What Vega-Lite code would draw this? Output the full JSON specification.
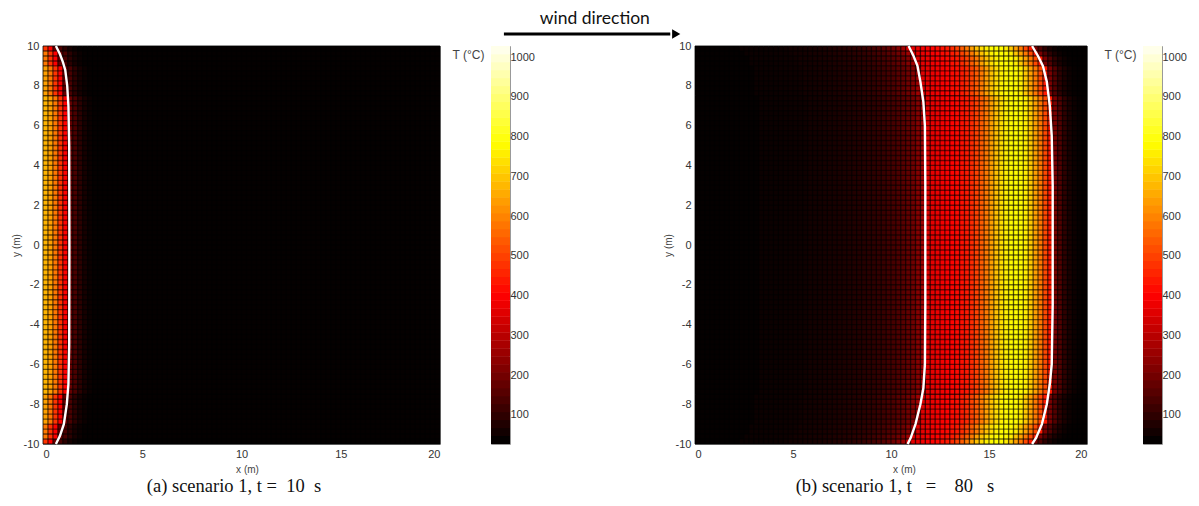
{"$schema":"https://vega.github.io/schema/vega-lite/v6.json","padding":{"left":10,"top":9,"right":0,"bottom":0},"background":"white","bounds":"flush","spacing":0,"resolve":{"scale":{"color":"independent"}},
"config":{"view":{"stroke":"#999","strokeWidth":1},"axis":{"grid":false,"domain":false,"ticks":false,"labelFont":"Liberation Sans","labelFontSize":11,"labelColor":"#333","titleFont":"Liberation Sans","titleFontSize":10,"titleFontWeight":"normal","titleColor":"#444","labelPadding":4,"labelExpr":"''+datum.value"}},
"datasets":{
"bands":[{"k":"a","y0":0,"y1":7.5,"n0":0,"n1":-7.5},{"k":"b","y0":7.5,"y1":9,"n0":-7.5,"n1":-9},{"k":"c","y0":9,"y1":9.5,"n0":-9,"n1":-9.5},{"k":"d","y0":9.5,"y1":9.75,"n0":-9.5,"n1":-9.75},{"k":"e","y0":9.75,"y1":10,"n0":-9.75,"n1":-10}],
"gx":[0,0.25,0.5,0.75,1,1.25,1.5,1.75,2,2.25,2.5,2.75,3,3.25,3.5,3.75,4,4.25,4.5,4.75,5,5.25,5.5,5.75,6,6.25,6.5,6.75,7,7.25,7.5,7.75,8,8.25,8.5,8.75,9,9.25,9.5,9.75,10,10.25,10.5,10.75,11,11.25,11.5,11.75,12,12.25,12.5,12.75,13,13.25,13.5,13.75,14,14.25,14.5,14.75,15,15.25,15.5,15.75,16,16.25,16.5,16.75,17,17.25,17.5,17.75,18,18.25,18.5,18.75,19,19.25,19.5,19.75,20],
"gy":[-10,-9.75,-9.5,-9.25,-9,-8.75,-8.5,-8.25,-8,-7.75,-7.5,-7.25,-7,-6.75,-6.5,-6.25,-6,-5.75,-5.5,-5.25,-5,-4.75,-4.5,-4.25,-4,-3.75,-3.5,-3.25,-3,-2.75,-2.5,-2.25,-2,-1.75,-1.5,-1.25,-1,-0.75,-0.5,-0.25,0,0.25,0.5,0.75,1,1.25,1.5,1.75,2,2.25,2.5,2.75,3,3.25,3.5,3.75,4,4.25,4.5,4.75,5,5.25,5.5,5.75,6,6.25,6.5,6.75,7,7.25,7.5,7.75,8,8.25,8.5,8.75,9,9.25,9.5,9.75,10],
"bar":[{"t":27,"u":48},{"t":47,"u":68},{"t":67,"u":88},{"t":87,"u":108},{"t":107,"u":128},{"t":127,"u":148},{"t":147,"u":168},{"t":167,"u":188},{"t":187,"u":208},{"t":207,"u":228},{"t":227,"u":248},{"t":247,"u":268},{"t":267,"u":288},{"t":287,"u":308},{"t":307,"u":328},{"t":327,"u":348},{"t":347,"u":368},{"t":367,"u":388},{"t":387,"u":408},{"t":407,"u":428},{"t":427,"u":448},{"t":447,"u":468},{"t":467,"u":488},{"t":487,"u":508},{"t":507,"u":528},{"t":527,"u":548},{"t":547,"u":568},{"t":567,"u":588},{"t":587,"u":608},{"t":607,"u":628},{"t":627,"u":648},{"t":647,"u":668},{"t":667,"u":688},{"t":687,"u":708},{"t":707,"u":728},{"t":727,"u":748},{"t":747,"u":768},{"t":767,"u":788},{"t":787,"u":808},{"t":807,"u":828},{"t":827,"u":848},{"t":847,"u":868},{"t":867,"u":888},{"t":887,"u":908},{"t":907,"u":928},{"t":927,"u":948},{"t":947,"u":968},{"t":967,"u":988},{"t":987,"u":1008},{"t":1007,"u":1028}],
"A":[{"x":0,"w":0.25,"a":660,"b":630,"c":570,"d":570,"e":470},{"x":0.25,"w":0.5,"a":630,"b":570,"c":470,"d":470,"e":390},{"x":0.5,"w":0.75,"a":570,"b":470,"c":390,"d":390,"e":170},{"x":0.75,"w":1,"a":470,"b":390,"c":170,"d":170,"e":130},{"x":1,"w":1.25,"a":390,"b":170,"c":130,"d":130,"e":85},{"x":1.25,"w":1.5,"a":170,"b":130,"c":85,"d":85,"e":55},{"x":1.5,"w":1.75,"a":130,"b":85,"c":55,"d":55,"e":38},{"x":1.75,"w":2,"a":85,"b":55,"c":38,"d":38,"e":30},{"x":2,"w":2.25,"a":55,"b":38,"c":30,"d":30,"e":28},{"x":2.25,"w":2.5,"a":38,"b":30,"c":28,"d":28,"e":28},{"x":2.5,"w":2.75,"a":30,"b":28,"c":28,"d":28,"e":28},{"x":2.75,"w":20,"a":28,"b":28,"c":28,"d":28,"e":28}],
"B":[{"x":0,"w":2.25,"a":28,"b":28,"c":28,"d":28,"e":28},{"x":2.25,"w":2.5,"a":28,"b":28,"c":28,"d":28,"e":38},{"x":2.5,"w":2.75,"a":28,"b":28,"c":28,"d":38,"e":38},{"x":2.75,"w":3,"a":28,"b":28,"c":38,"d":38,"e":38},{"x":3,"w":3.25,"a":28,"b":38,"c":38,"d":38,"e":38},{"x":3.25,"w":3.5,"a":38,"b":38,"c":38,"d":38,"e":38},{"x":3.5,"w":3.75,"a":38,"b":38,"c":38,"d":38,"e":40},{"x":3.75,"w":4,"a":38,"b":38,"c":38,"d":40,"e":40},{"x":4,"w":4.25,"a":38,"b":38,"c":40,"d":40,"e":42},{"x":4.25,"w":4.5,"a":38,"b":40,"c":40,"d":42,"e":42},{"x":4.5,"w":4.75,"a":40,"b":40,"c":42,"d":42,"e":44},{"x":4.75,"w":5,"a":40,"b":42,"c":42,"d":44,"e":50},{"x":5,"w":5.25,"a":42,"b":42,"c":44,"d":50,"e":50},{"x":5.25,"w":5.5,"a":42,"b":44,"c":50,"d":50,"e":52},{"x":5.5,"w":5.75,"a":44,"b":50,"c":50,"d":52,"e":54},{"x":5.75,"w":6,"a":50,"b":50,"c":52,"d":54,"e":56},{"x":6,"w":6.25,"a":50,"b":52,"c":54,"d":56,"e":58},{"x":6.25,"w":6.5,"a":52,"b":54,"c":56,"d":58,"e":60},{"x":6.5,"w":6.75,"a":54,"b":56,"c":58,"d":60,"e":63},{"x":6.75,"w":7,"a":56,"b":58,"c":60,"d":63,"e":66},{"x":7,"w":7.25,"a":58,"b":60,"c":63,"d":66,"e":70},{"x":7.25,"w":7.5,"a":60,"b":63,"c":66,"d":70,"e":74},{"x":7.5,"w":7.75,"a":63,"b":66,"c":70,"d":74,"e":78},{"x":7.75,"w":8,"a":66,"b":70,"c":74,"d":78,"e":84},{"x":8,"w":8.25,"a":70,"b":74,"c":78,"d":84,"e":90},{"x":8.25,"w":8.5,"a":74,"b":78,"c":84,"d":90,"e":96},{"x":8.5,"w":8.75,"a":78,"b":84,"c":90,"d":96,"e":104},{"x":8.75,"w":9,"a":84,"b":90,"c":96,"d":104,"e":114},{"x":9,"w":9.25,"a":90,"b":96,"c":104,"d":114,"e":125},{"x":9.25,"w":9.5,"a":96,"b":104,"c":114,"d":125,"e":135},{"x":9.5,"w":9.75,"a":104,"b":114,"c":125,"d":135,"e":150},{"x":9.75,"w":10,"a":114,"b":125,"c":135,"d":150,"e":165},{"x":10,"w":10.25,"a":125,"b":135,"c":150,"d":165,"e":185},{"x":10.25,"w":10.5,"a":135,"b":150,"c":165,"d":185,"e":215},{"x":10.5,"w":10.75,"a":150,"b":165,"c":185,"d":215,"e":255},{"x":10.75,"w":11,"a":165,"b":185,"c":215,"d":255,"e":345},{"x":11,"w":11.25,"a":185,"b":215,"c":255,"d":345,"e":355},{"x":11.25,"w":11.5,"a":215,"b":255,"c":345,"d":355,"e":365},{"x":11.5,"w":11.75,"a":255,"b":345,"c":355,"d":365,"e":375},{"x":11.75,"w":12,"a":345,"b":355,"c":365,"d":375,"e":385},{"x":12,"w":12.25,"a":355,"b":365,"c":375,"d":385,"e":395},{"x":12.25,"w":12.5,"a":365,"b":375,"c":385,"d":395,"e":405},{"x":12.5,"w":12.75,"a":375,"b":385,"c":395,"d":405,"e":415},{"x":12.75,"w":13,"a":385,"b":395,"c":405,"d":415,"e":430},{"x":13,"w":13.25,"a":395,"b":405,"c":415,"d":430,"e":455},{"x":13.25,"w":13.5,"a":405,"b":415,"c":430,"d":455,"e":490},{"x":13.5,"w":13.75,"a":415,"b":430,"c":455,"d":490,"e":530},{"x":13.75,"w":14,"a":430,"b":455,"c":490,"d":530,"e":575},{"x":14,"w":14.25,"a":455,"b":490,"c":530,"d":575,"e":630},{"x":14.25,"w":14.5,"a":490,"b":530,"c":575,"d":630,"e":680},{"x":14.5,"w":14.75,"a":530,"b":575,"c":630,"d":680,"e":720},{"x":14.75,"w":15,"a":575,"b":630,"c":680,"d":720,"e":750},{"x":15,"w":15.25,"a":630,"b":680,"c":720,"d":750,"e":765},{"x":15.25,"w":15.5,"a":680,"b":720,"c":750,"d":765,"e":770},{"x":15.5,"w":15.75,"a":720,"b":750,"c":765,"d":770,"e":765},{"x":15.75,"w":16,"a":750,"b":765,"c":770,"d":765,"e":745},{"x":16,"w":16.25,"a":765,"b":770,"c":765,"d":745,"e":690},{"x":16.25,"w":16.5,"a":770,"b":765,"c":745,"d":690,"e":630},{"x":16.5,"w":16.75,"a":765,"b":745,"c":690,"d":630,"e":570},{"x":16.75,"w":17,"a":745,"b":690,"c":630,"d":570,"e":500},{"x":17,"w":17.25,"a":690,"b":630,"c":570,"d":500,"e":430},{"x":17.25,"w":17.5,"a":630,"b":570,"c":500,"d":430,"e":200},{"x":17.5,"w":17.75,"a":570,"b":500,"c":430,"d":200,"e":140},{"x":17.75,"w":18,"a":500,"b":430,"c":200,"d":140,"e":90},{"x":18,"w":18.25,"a":430,"b":200,"c":140,"d":90,"e":60},{"x":18.25,"w":18.5,"a":200,"b":140,"c":90,"d":60,"e":42},{"x":18.5,"w":18.75,"a":140,"b":90,"c":60,"d":42,"e":32},{"x":18.75,"w":19,"a":90,"b":60,"c":42,"d":32,"e":28},{"x":19,"w":19.25,"a":60,"b":42,"c":32,"d":28,"e":27},{"x":19.25,"w":19.5,"a":42,"b":32,"c":28,"d":27,"e":27},{"x":19.5,"w":19.75,"a":32,"b":28,"c":27,"d":27,"e":27},{"x":19.75,"w":20,"a":28,"b":27,"c":27,"d":27,"e":27}],
"Ac":[{"x":0.65,"y":10},{"x":0.85,"y":9.6},{"x":1.0,"y":9.2},{"x":1.12,"y":8.8},{"x":1.22,"y":8},{"x":1.28,"y":7},{"x":1.32,"y":5},{"x":1.33,"y":0},{"x":1.32,"y":-5},{"x":1.28,"y":-7},{"x":1.2,"y":-8},{"x":1.05,"y":-9},{"x":0.85,"y":-9.6},{"x":0.65,"y":-10}],
"Bc":[{"c":"L","x":10.9,"y":10},{"c":"L","x":11.15,"y":9.5},{"c":"L","x":11.35,"y":9},{"c":"L","x":11.5,"y":8.2},{"c":"L","x":11.65,"y":7.2},{"c":"L","x":11.73,"y":6},{"c":"L","x":11.75,"y":3},{"c":"L","x":11.75,"y":-3},{"c":"L","x":11.73,"y":-6},{"c":"L","x":11.65,"y":-7.2},{"c":"L","x":11.5,"y":-8},{"c":"L","x":11.25,"y":-9},{"c":"L","x":11,"y":-9.7},{"c":"L","x":10.85,"y":-10},{"c":"R","x":17.2,"y":10},{"c":"R","x":17.5,"y":9.5},{"c":"R","x":17.75,"y":9},{"c":"R","x":17.95,"y":8.2},{"c":"R","x":18.1,"y":7},{"c":"R","x":18.2,"y":5.5},{"c":"R","x":18.25,"y":3},{"c":"R","x":18.25,"y":-3},{"c":"R","x":18.2,"y":-6},{"c":"R","x":18.1,"y":-7},{"c":"R","x":17.95,"y":-8},{"c":"R","x":17.7,"y":-9},{"c":"R","x":17.4,"y":-9.7},{"c":"R","x":17.2,"y":-10}]
},
"hconcat":[
{"width":397,"height":398,"view":{"fill":"#000"},"layer":[
{"data":{"name":"A"},"transform":[{"fold":["a","b","c","d","e"],"as":["k","T"]},{"lookup":"k","from":{"data":{"name":"bands"},"key":"k","fields":["y0","y1","n0","n1"]}}],"mark":{"type":"rect"},"encoding":{"x":{"field":"x","type":"quantitative","scale":{"domain":[0,20],"nice":false},"axis":{"title":"x (m)","values":[0,5,10,15,20],"titleX":204,"titleY":20}},"x2":{"field":"w"},"y":{"field":"y0","type":"quantitative","scale":{"domain":[-10,10],"nice":false},"axis":{"title":"y (m)","tickCount":11,"values":[-10,-8,-6,-4,-2,0,2,4,6,8,10],"titleX":-22}},"y2":{"field":"y1"},"color":{"field":"T","type":"quantitative","legend":null,"scale":{"domain":[27,392,773,1028],"range":["#040000","#ff0000","#ffff00","#ffffff"],"interpolate":"rgb"}}}},
{"data":{"name":"A"},"transform":[{"fold":["a","b","c","d","e"],"as":["k","T"]},{"lookup":"k","from":{"data":{"name":"bands"},"key":"k","fields":["y0","y1","n0","n1"]}}],"mark":{"type":"rect"},"encoding":{"x":{"field":"x","type":"quantitative"},"x2":{"field":"w"},"y":{"field":"n0","type":"quantitative"},"y2":{"field":"n1"},"color":{"field":"T","type":"quantitative","legend":null}}},
{"data":{"name":"gx"},"mark":{"type":"rule","color":"#000","opacity":0.55,"strokeWidth":1.4},"encoding":{"x":{"field":"data","type":"quantitative"}}},
{"data":{"name":"gy"},"mark":{"type":"rule","color":"#000","opacity":0.55,"strokeWidth":1.4},"encoding":{"y":{"field":"data","type":"quantitative"}}},
{"data":{"name":"Ac"},"mark":{"type":"line","color":"#fff","strokeWidth":2.4},"encoding":{"x":{"field":"x","type":"quantitative"},"y":{"field":"y","type":"quantitative"},"order":{"field":"y"}}},
{"data":{"values":[{"x":9.62,"y":-12.1,"s":"(a) scenario 1, t\u00a0=\u00a0\u00a010\u00a0\u00a0s"}]},"mark":{"type":"text","font":"Liberation Serif","fontSize":18.5,"color":"#111"},"encoding":{"x":{"field":"x","type":"quantitative"},"y":{"field":"y","type":"quantitative"},"text":{"field":"s"}}},
{"data":{"values":[{"x":27.8,"y":11.36,"s":"wind direction"}]},"mark":{"type":"text","font":"Lato","fontSize":17.5,"color":"#111"},"encoding":{"x":{"field":"x","type":"quantitative"},"y":{"field":"y","type":"quantitative"},"text":{"field":"s"}}},
{"data":{"values":[{"x":23.22,"w":31.6,"y":10.6}]},"mark":{"type":"rule","color":"#000","strokeWidth":3},"encoding":{"x":{"field":"x","type":"quantitative"},"x2":{"field":"w"},"y":{"field":"y","type":"quantitative"}}},
{"data":{"values":[{"x":31.9,"y":10.6}]},"mark":{"type":"point","shape":"triangle-right","filled":true,"color":"#000","opacity":1,"size":90},"encoding":{"x":{"field":"x","type":"quantitative"},"y":{"field":"y","type":"quantitative"}}}
]},
{"width":51,"height":398,"view":{"stroke":null},"data":{"values":[]},"mark":"text","encoding":{}},
{"width":19,"height":398,"data":{"name":"bar"},"mark":{"type":"rect"},"encoding":{"y":{"field":"t","type":"quantitative","scale":{"domain":[27,1028],"nice":false},"axis":{"orient":"right","title":"T (°C)","values":[100,200,300,400,500,600,700,800,900,1000],"titleAngle":0,"titleX":-42,"titleY":15,"titleFontSize":12,"titleAlign":"center","labelPadding":3,"ticks":true,"tickSize":-3,"tickColor":"#888"}},"y2":{"field":"u"},"color":{"field":"t","type":"quantitative","legend":null,"scale":{"domain":[27,392,773,1028],"range":["#040000","#ff0000","#ffff00","#ffffff"],"interpolate":"rgb"}}}},
{"width":185,"height":398,"view":{"stroke":null},"data":{"values":[]},"mark":"text","encoding":{}},
{"width":392,"height":398,"view":{"fill":"#000"},"layer":[
{"data":{"name":"B"},"transform":[{"fold":["a","b","c","d","e"],"as":["k","T"]},{"lookup":"k","from":{"data":{"name":"bands"},"key":"k","fields":["y0","y1","n0","n1"]}}],"mark":{"type":"rect"},"encoding":{"x":{"field":"x","type":"quantitative","scale":{"domain":[0,20],"nice":false},"axis":{"title":"x (m)","values":[0,5,10,15,20],"titleX":209,"titleY":20}},"x2":{"field":"w"},"y":{"field":"y0","type":"quantitative","scale":{"domain":[-10,10],"nice":false},"axis":{"title":"y (m)","tickCount":11,"values":[-10,-8,-6,-4,-2,0,2,4,6,8,10],"titleX":-22}},"y2":{"field":"y1"},"color":{"field":"T","type":"quantitative","legend":null,"scale":{"domain":[27,392,773,1028],"range":["#040000","#ff0000","#ffff00","#ffffff"],"interpolate":"rgb"}}}},
{"data":{"name":"B"},"transform":[{"fold":["a","b","c","d","e"],"as":["k","T"]},{"lookup":"k","from":{"data":{"name":"bands"},"key":"k","fields":["y0","y1","n0","n1"]}}],"mark":{"type":"rect"},"encoding":{"x":{"field":"x","type":"quantitative"},"x2":{"field":"w"},"y":{"field":"n0","type":"quantitative"},"y2":{"field":"n1"},"color":{"field":"T","type":"quantitative","legend":null}}},
{"data":{"name":"gx"},"mark":{"type":"rule","color":"#000","opacity":0.55,"strokeWidth":1.4},"encoding":{"x":{"field":"data","type":"quantitative"}}},
{"data":{"name":"gy"},"mark":{"type":"rule","color":"#000","opacity":0.55,"strokeWidth":1.4},"encoding":{"y":{"field":"data","type":"quantitative"}}},
{"data":{"name":"Bc"},"mark":{"type":"line","color":"#fff","strokeWidth":2.4},"encoding":{"x":{"field":"x","type":"quantitative"},"y":{"field":"y","type":"quantitative"},"detail":{"field":"c"},"order":{"field":"y"}}},
{"data":{"values":[{"x":10.2,"y":-12.1,"s":"(b) scenario 1, t\u00a0\u00a0\u00a0=\u00a0\u00a0\u00a0\u00a080\u00a0\u00a0\u00a0s"}]},"mark":{"type":"text","font":"Liberation Serif","fontSize":18.5,"color":"#111"},"encoding":{"x":{"field":"x","type":"quantitative"},"y":{"field":"y","type":"quantitative"},"text":{"field":"s"}}}
]},
{"width":56,"height":398,"view":{"stroke":null},"data":{"values":[]},"mark":"text","encoding":{}},
{"width":19,"height":398,"data":{"name":"bar"},"mark":{"type":"rect"},"encoding":{"y":{"field":"t","type":"quantitative","scale":{"domain":[27,1028],"nice":false},"axis":{"orient":"right","title":"T (°C)","values":[100,200,300,400,500,600,700,800,900,1000],"titleAngle":0,"titleX":-42,"titleY":15,"titleFontSize":12,"titleAlign":"center","labelPadding":3,"ticks":true,"tickSize":-3,"tickColor":"#888"}},"y2":{"field":"u"},"color":{"field":"t","type":"quantitative","legend":null,"scale":{"domain":[27,392,773,1028],"range":["#040000","#ff0000","#ffff00","#ffffff"],"interpolate":"rgb"}}}}
]}
